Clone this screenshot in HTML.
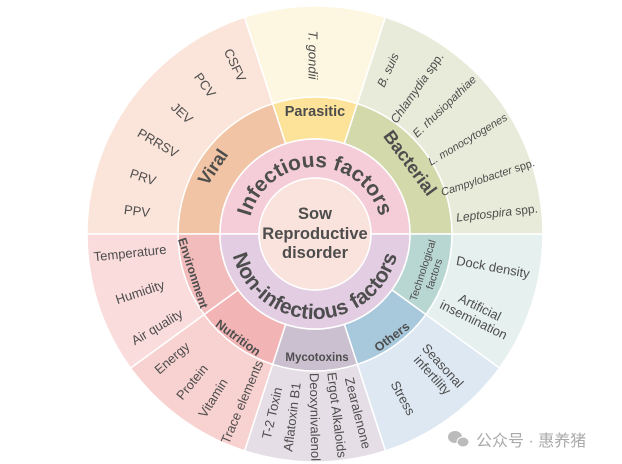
<!DOCTYPE html>
<html><head><meta charset="utf-8"><style>
html,body{margin:0;padding:0;background:#fff;width:622px;height:464px;overflow:hidden}
svg{display:block}
text{font-family:"Liberation Sans","Noto Sans CJK SC",sans-serif;fill:#4d4d4d}
.o{font-size:13px}
.b{font-weight:bold}
</style></head><body>
<svg width="622" height="464" viewBox="0 0 622 464" xmlns="http://www.w3.org/2000/svg">
<g stroke="#fff" stroke-width="1.5">
<path fill="#fbe4d9" d="M87,234 A228 228 0 0 1 244.55,17.15 L272.67,103.70 A137 137 0 0 0 178,234 Z"/>
<path fill="#fdf7e2" d="M244.55,17.15 A228 228 0 0 1 385.45,17.15 L357.33,103.70 A137 137 0 0 0 272.67,103.70 Z"/>
<path fill="#e8ebd9" d="M385.45,17.15 A228 228 0 0 1 543,234 L452,234 A137 137 0 0 0 357.33,103.70 Z"/>
<path fill="#e6f1ef" d="M543,234 A228 228 0 0 1 499.45,368.02 L425.83,314.53 A137 137 0 0 0 452,234 Z"/>
<path fill="#dde8f2" d="M499.45,368.02 A228 228 0 0 1 385.45,450.85 L357.33,364.30 A137 137 0 0 0 425.83,314.53 Z"/>
<path fill="#e6dee6" d="M385.45,450.85 A228 228 0 0 1 244.55,450.85 L272.67,364.30 A137 137 0 0 0 357.33,364.30 Z"/>
<path fill="#f8d2d0" d="M244.55,450.85 A228 228 0 0 1 130.55,368.02 L204.17,314.53 A137 137 0 0 0 272.67,364.30 Z"/>
<path fill="#f9dcdb" d="M130.55,368.02 A228 228 0 0 1 87,234 L178,234 A137 137 0 0 0 204.17,314.53 Z"/>
<path fill="#f0c4a4" d="M178,234 A137 137 0 0 1 272.67,103.70 L285.64,143.65 A95 95 0 0 0 220,234 Z"/>
<path fill="#fde39a" d="M272.67,103.70 A137 137 0 0 1 357.33,103.70 L344.36,143.65 A95 95 0 0 0 285.64,143.65 Z"/>
<path fill="#d4d9ac" d="M357.33,103.70 A137 137 0 0 1 452,234 L410,234 A95 95 0 0 0 344.36,143.65 Z"/>
<path fill="#b8d6d2" d="M452,234 A137 137 0 0 1 425.83,314.53 L391.86,289.84 A95 95 0 0 0 410,234 Z"/>
<path fill="#a8c8dc" d="M425.83,314.53 A137 137 0 0 1 357.33,364.30 L344.36,324.35 A95 95 0 0 0 391.86,289.84 Z"/>
<path fill="#cbc0d0" d="M357.33,364.30 A137 137 0 0 1 272.67,364.30 L285.64,324.35 A95 95 0 0 0 344.36,324.35 Z"/>
<path fill="#f2b4b4" d="M272.67,364.30 A137 137 0 0 1 204.17,314.53 L238.14,289.84 A95 95 0 0 0 285.64,324.35 Z"/>
<path fill="#f3bcbc" d="M204.17,314.53 A137 137 0 0 1 178,234 L220,234 A95 95 0 0 0 238.14,289.84 Z"/>
<path fill="#f5cdd8" d="M220,234 A95 95 0 0 1 410,234 L371,234 A56 56 0 0 0 259,234 Z"/>
<path fill="#e2cde2" d="M410,234 A95 95 0 0 1 220,234 L259,234 A56 56 0 0 0 371,234 Z"/>
<circle cx="315" cy="234" r="56" fill="#f9e3dc"/>
</g>
<defs>
<path id="pi" d="M248,234 A67 67 0 0 1 382,234"/>
<path id="pn" d="M230,234 A85 85 0 0 0 400,234"/>
</defs>
<text class="b" font-size="21" text-anchor="middle"><textPath href="#pi" startOffset="50%">Infectious factors</textPath></text>
<text class="b" font-size="21" text-anchor="middle"><textPath href="#pn" startOffset="50%">Non-infectious  factors</textPath></text>
<g class="b" font-size="16.5" text-anchor="middle">
<text x="315" y="219">Sow</text>
<text x="315" y="239">Reproductive</text>
<text x="315" y="258">disorder</text>
</g>
<g class="b" text-anchor="middle" dominant-baseline="central">
<text font-size="18" transform="translate(213,167) rotate(-56)">Viral</text>
<text font-size="14.5" transform="translate(315,112)">Parasitic</text>
<text font-size="18" transform="translate(410,163) rotate(53.5)">Bacterial</text>
<text font-size="12" transform="translate(193,273) rotate(72)">Environment</text>
<text font-size="12.5" transform="translate(238,338) rotate(36)">Nutrition</text>
<text font-size="11.5" transform="translate(317,358)">Mycotoxins</text>
<text font-size="12.5" transform="translate(392,337) rotate(-37)">Others</text>
</g>
<g text-anchor="middle" font-size="10.5" transform="translate(428,272) rotate(-72)">
<text y="-2">Technological</text><text y="10">factors</text>
</g>
<g class="o" text-anchor="middle" dominant-baseline="central">
<text transform="translate(235,65) rotate(65)">CSFV</text>
<text transform="translate(205,85) rotate(54)">PCV</text>
<text transform="translate(182,113) rotate(42.5)">JEV</text>
<text transform="translate(158,143) rotate(30)">PRRSV</text>
<text transform="translate(143,177) rotate(18)">PRV</text>
<text transform="translate(137,211) rotate(7)">PPV</text>
<text font-style="italic" transform="translate(313,55) rotate(90)">T. gondii</text>
<text font-size="12" transform="translate(388,70) rotate(-65.7)"><tspan font-style="italic">B. suis</tspan></text>
<text font-size="12" transform="translate(417,88) rotate(-55)"><tspan font-style="italic">Chlamydia</tspan> spp.</text>
<text font-size="11.5" transform="translate(445,107) rotate(-44)"><tspan font-style="italic">E. rhusiopathiae</tspan></text>
<text font-size="11" transform="translate(468,140) rotate(-31)"><tspan font-style="italic">L. monocytogenes</tspan></text>
<text font-size="11" transform="translate(488,178) rotate(-18)"><tspan font-style="italic">Campylobacter</tspan> spp.</text>
<text font-size="12" transform="translate(497,213) rotate(-6.5)"><tspan font-style="italic">Leptospira</tspan> spp.</text>
<text transform="translate(130,253) rotate(-6)">Temperature</text>
<text transform="translate(140,292) rotate(-18.4)">Humidity</text>
<text transform="translate(157,327) rotate(-30.6)">Air quality</text>
<text transform="translate(172,358) rotate(-41)">Energy</text>
<text transform="translate(192,382) rotate(-50.5)">Protein</text>
<text transform="translate(213,398) rotate(-58)">Vitamin</text>
<text transform="translate(242,402) rotate(-67)">Trace elements</text>
<text transform="translate(272,413) rotate(-77)">T-2 Toxin</text>
<text transform="translate(292,417) rotate(-83)">Aflatoxin B1</text>
<text transform="translate(315,417) rotate(89)">Deoxynivalenol</text>
<text transform="translate(337,415) rotate(83)">Ergot Alkaloids</text>
<text transform="translate(358,413) rotate(76)">Zearalenone</text>
<text transform="translate(403,398) rotate(61.5)">Stress</text>
<text transform="translate(493,267) rotate(10.4)">Dock density</text>
</g>
<g class="o" text-anchor="middle" transform="translate(438,370) rotate(47.6)">
<text y="-2">Seasonal</text><text y="12">infertility</text>
</g>
<g class="o" text-anchor="middle" transform="translate(477,313) rotate(26)">
<text y="-2">Artificial</text><text y="12">insemination</text>
</g>
<g fill="#bbb">
<ellipse cx="455" cy="437" rx="7" ry="6"/>
<ellipse cx="463" cy="442" rx="6" ry="5" stroke="#fff" stroke-width="1"/>
</g>
<text x="476" y="446" font-size="16" style="fill:#aaa">公众号 · 惠养猪</text>
</svg>
</body></html>
